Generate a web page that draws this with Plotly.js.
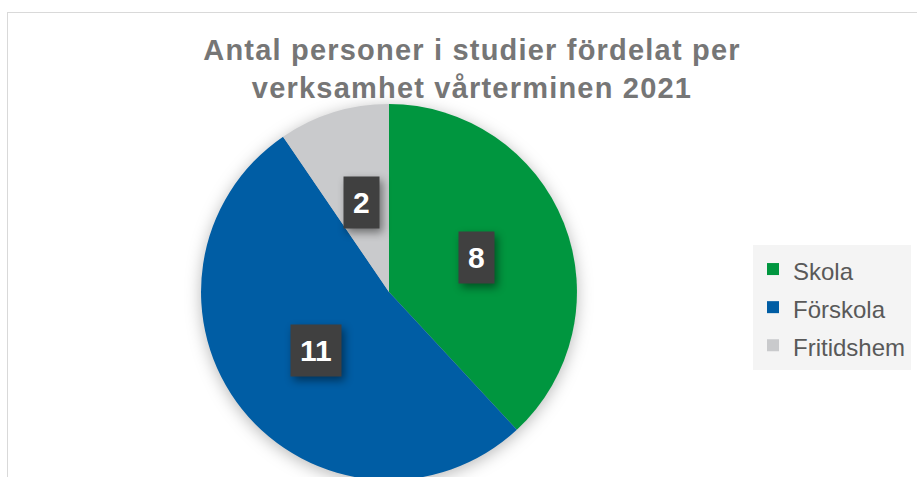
<!DOCTYPE html>
<html>
<head>
<meta charset="utf-8">
<script src="https://cdn.plot.ly/plotly-3.0.1.min.js"></script>
<style>
  html, body { margin: 0; padding: 0; background: #ffffff; overflow: hidden; width: 917px; height: 477px; }
  #frame { position: absolute; left: 7px; top: 12px; width: 940px; height: 500px; border-left: 1px solid #d9d9d9; border-top: 1px solid #d9d9d9; }
  #chart { position: absolute; left: 0; top: 0; width: 928px; height: 490px; }
  .pielayer .trace { filter: drop-shadow(0px 3px 8px rgba(0,0,0,0.28)); }
  .annotation rect.bg { filter: drop-shadow(3px 4px 4px rgba(0,0,0,0.45)); }
  .gtitle { letter-spacing: 1.2px; }
</style>
</head>
<body>
<div id="frame"><div id="chart"></div></div>
<script>
// ---- data ----
var categories = ['Skola', 'Förskola', 'Fritidshem'];
var values = [8, 11, 2];
var sliceColors = ['#00963F', '#005DA4', '#C9CACC'];
var titleLines = ['Antal personer i studier fördelat per', 'verksamhet vårterminen 2021'];

// ---- layout geometry ----
var W = 928, H = 490;
var domX = [0.2080, 0.6131];
var domY = [0.0469, 0.8143];
var R = Math.min(W * (domX[1] - domX[0]), H * (domY[1] - domY[0])) / 2;
var cx = (domX[0] + domX[1]) / 2, cy = (domY[0] + domY[1]) / 2;

var total = values.reduce(function (a, b) { return a + b; }, 0);
var annotations = [];
var cum = 0;
values.forEach(function (v) {
  var mid = (cum + v / 2) / total * 2 * Math.PI;
  cum += v;
  annotations.push({
    xref: 'paper', yref: 'paper',
    x: cx + 0.5 * R * Math.sin(mid) / W,
    y: cy + 0.5 * R * Math.cos(mid) / H,
    text: '<b>' + v + '</b>',
    showarrow: false,
    font: { family: 'Liberation Sans, Arial, sans-serif', size: 30, color: '#ffffff' },
    bgcolor: '#404040',
    borderpad: 9,
    xanchor: 'center', yanchor: 'middle'
  });
});

var legendLabels = categories.map(function (c) { return '<span style="font-size:24px">' + c + '</span>'; });

var trace = {
  type: 'pie',
  labels: legendLabels,
  values: values,
  marker: { colors: sliceColors, line: { width: 0 } },
  sort: false,
  direction: 'clockwise',
  rotation: 0,
  textinfo: 'none',
  hoverinfo: 'label+value',
  domain: { x: domX, y: domY }
};

var layout = {
  width: W, height: H,
  margin: { l: 0, r: 0, t: 0, b: 0, pad: 0 },
  paper_bgcolor: 'rgba(0,0,0,0)',
  plot_bgcolor: 'rgba(0,0,0,0)',
  showlegend: true,
  title: {
    text: '<b>' + titleLines.join('<br>') + '</b>',
    font: { family: 'Liberation Sans, Arial, sans-serif', size: 29, color: '#767676' },
    x: 0.5, xanchor: 'center', xref: 'paper',
    y: 1 - 47 / H, yanchor: 'top', yref: 'container'
  },
  legend: {
    x: 745 / W, xanchor: 'left',
    y: 1 - 232 / H, yanchor: 'top',
    bgcolor: '#F4F4F4',
    font: { family: 'Liberation Sans, Arial, sans-serif', size: 27, color: '#595959' },
    itemclick: false, itemdoubleclick: false
  },
  annotations: annotations
};

Plotly.newPlot('chart', [trace], layout, { staticPlot: true, displayModeBar: false });
</script>
</body>
</html>
